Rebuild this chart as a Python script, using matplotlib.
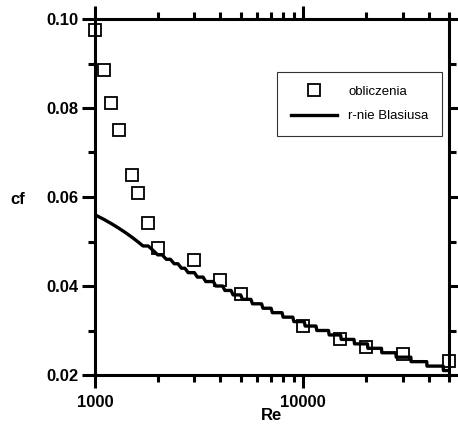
import matplotlib
matplotlib.use('Agg')
import matplotlib.pyplot as plt
from matplotlib.ticker import LogLocator, NullFormatter, FixedLocator, FixedFormatter

plt.rcParams['font.family'] = ['Liberation Sans', 'DejaVu Sans']

# computed points (squares)
calc_re = [1000, 1100, 1200, 1300, 1500, 1600, 1800, 2000, 3000, 4000,
           5000, 10000, 15000, 20000, 30000, 50000]
calc_cf = [0.0975, 0.0885, 0.0811, 0.0751, 0.0649, 0.0609, 0.0542, 0.0485,
           0.0458, 0.0413, 0.0382, 0.0310, 0.0281, 0.0263, 0.0247, 0.0232]

# Blasius curve (values rounded to 0.001, hence the steps)
blasius_re = [1000, 1100, 1200, 1300, 1400, 1500, 1600, 1700, 1800, 1900,
              2000, 2100, 2200, 2300, 2400, 2500, 2600, 2700, 2800, 3000,
              3100, 3300, 3400, 3700, 3800, 4100, 4200, 4500, 4600, 5000,
              5100, 5600, 5700, 6300, 6400, 7000, 7100, 7900, 8000, 8900,
              9000, 10100, 10200, 11500, 11600, 13200, 13300, 15100, 15200, 17500,
              17600, 20300, 20400, 23700, 23800, 27800, 27900, 32800, 32900, 39100,
              39200, 46900, 47000, 50000]
blasius_cf = [0.056, 0.055, 0.054, 0.053, 0.052, 0.051, 0.050, 0.049, 0.049, 0.048,
              0.047, 0.047, 0.046, 0.046, 0.045, 0.045, 0.044, 0.044, 0.043, 0.043,
              0.042, 0.042, 0.041, 0.041, 0.040, 0.040, 0.039, 0.039, 0.038, 0.038,
              0.037, 0.037, 0.036, 0.036, 0.035, 0.035, 0.034, 0.034, 0.033, 0.033,
              0.032, 0.032, 0.031, 0.031, 0.030, 0.030, 0.029, 0.029, 0.028, 0.028,
              0.027, 0.027, 0.026, 0.026, 0.025, 0.025, 0.024, 0.024, 0.023, 0.023,
              0.022, 0.022, 0.021, 0.021]

y_ticks = [0.02, 0.04, 0.06, 0.08, 0.10]
y_labels = ['0.02', '0.04', '0.06', '0.08', '0.10']

fig = plt.figure(figsize=(4.58, 4.24), dpi=100)
ax = fig.add_axes([95 / 458, 49 / 424, 354 / 458, 356 / 424])

ax.plot(calc_re, calc_cf, linestyle='none', marker='s', markersize=8.6,
        markerfacecolor='none', markeredgecolor='black', markeredgewidth=1.3,
        clip_on=False, label='obliczenia', zorder=3)
ax.plot(blasius_re, blasius_cf, color='black', linewidth=2.4,
        label='r-nie Blasiusa', zorder=2)

ax.set_xscale('log')
ax.set_xlim(1000, 50000)
ax.set_ylim(0.02, 0.10)

ax.xaxis.set_major_locator(FixedLocator([1000, 10000]))
ax.xaxis.set_major_formatter(FixedFormatter(['1000', '10000']))
ax.xaxis.set_minor_locator(LogLocator(base=10, subs=range(2, 10), numticks=20))
ax.xaxis.set_minor_formatter(NullFormatter())
ax.yaxis.set_major_locator(FixedLocator(y_ticks))
ax.yaxis.set_major_formatter(FixedFormatter(y_labels))
ax.yaxis.set_minor_locator(FixedLocator([0.03, 0.05, 0.07, 0.09]))

for s in ax.spines.values():
    s.set_linewidth(2.2)

ax.tick_params(which='both', direction='out', top=True, right=True, width=2.2)
ax.tick_params(which='major', length=9.4)
ax.tick_params(which='minor', length=5)
ax.tick_params(axis='x', which='major', pad=5)
ax.tick_params(axis='y', which='major', pad=2.5)
for lab in ax.get_xticklabels() + ax.get_yticklabels():
    lab.set_fontsize(12)
    lab.set_fontweight('bold')

ax.set_xlabel('Re', fontsize=12, fontweight='bold', va='baseline')
ax.xaxis.set_label_coords(0.5, (375 - 420) / 356)
ax.set_ylabel('cf', fontsize=12, fontweight='bold', rotation=0,
              ha='center', va='baseline')
ax.yaxis.set_label_coords((18 - 95) / 354, (375 - 204) / 356)

leg = ax.legend(loc='upper left', bbox_to_anchor=(277 / 458, 1 - 72 / 424),
                bbox_transform=fig.transFigure, borderaxespad=0,
                fontsize=9.5, frameon=True, fancybox=False, numpoints=1,
                handlelength=3.5, handletextpad=0.85, borderpad=1.05,
                labelspacing=0.9)
leg.get_frame().set_edgecolor('black')
leg.get_frame().set_linewidth(0.8)

fig.savefig('out.png', dpi=100)
